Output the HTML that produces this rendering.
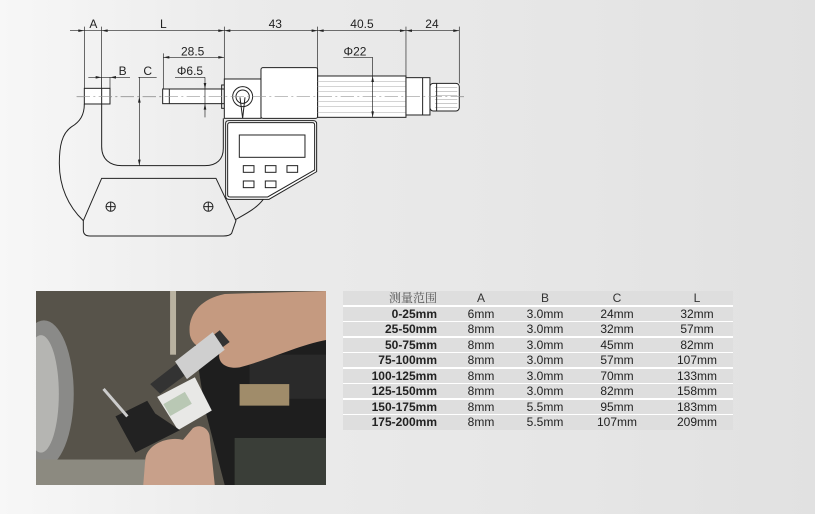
<!DOCTYPE html>
<html><head><meta charset="utf-8"><style>
html,body{margin:0;padding:0}
body{width:815px;height:514px;overflow:hidden;position:relative;background:linear-gradient(90deg,#f7f7f7 0%,#ebebeb 30%,#e6e6e6 70%,#e1e1e1 100%);font-family:"Liberation Sans",Arial,sans-serif}
.tbl{position:absolute;left:343px;top:291px;width:390px;height:139px;background:#fff}
.row{position:absolute;left:0;width:390px;height:14px;background:#dedede;font-size:12px;color:#222;line-height:15px}
.row span{position:absolute;top:0;white-space:nowrap}
.c0{right:296px;font-weight:bold}
.c1,.c2,.c3,.c4{transform:translateX(-50%)}
.c1{left:138px}.c2{left:202px}.c3{left:274px}.c4{left:354px}
.hd{color:#333}
.hd .c0{font-weight:normal;font-family:"Liberation Serif","Noto Serif CJK SC",serif;color:#555}
</style></head><body>
<svg width="815" height="514" style="position:absolute;left:0;top:0">
<g transform="translate(50,0) scale(0.3333)" fill="none" stroke="#222" stroke-width="3">
<line x1="80" y1="290" x2="1250" y2="290" stroke="#999" stroke-width="2.5" stroke-dasharray="40,10,6,10"/>
<path d="M103,312 C103,345 90,365 65,380 C35,400 28,440 28,490 C28,560 55,620 100,662"/>
<path d="M155,312 L155,440 C155,478 180,497 215,497 L465,497 C500,497 520,478 520,445 L520,355"/>
<path d="M100,662 L155,535 L498,535 L558,662 L545,700 C540,707 530,708 520,708 L120,708 C105,708 100,700 100,690 Z"/>
<path d="M555,660 C590,640 620,625 640,598"/>
<circle cx="182" cy="620" r="14"/><path d="M168,620 H196 M182,606 V634"/>
<circle cx="475" cy="620" r="14"/><path d="M461,620 H489 M475,606 V634"/>
<rect x="103" y="265" width="77" height="47" fill="#fff"/>
<line x1="155" y1="265" x2="155" y2="312"/>
<rect x="338" y="267" width="185" height="44" fill="#fff"/>
<line x1="358" y1="267" x2="358" y2="311"/>
<rect x="515" y="255" width="10" height="70"/>
<rect x="523" y="237" width="110" height="118" fill="#fff"/>
<rect x="633" y="203" width="170" height="152" rx="6" fill="#fff"/>
<circle cx="578" cy="290" r="30"/><circle cx="578" cy="290" r="20"/>
<path d="M570,292 L578,355 L585,292"/>
<path d="M527,370 Q527,362 537,362 L790,362 Q800,362 800,372 L800,515 L657,598 L537,598 Q527,598 527,588 Z" fill="#fff"/>
<path d="M533,375 Q533,368 540,368 L787,368 Q794,368 794,375 L794,510 L653,591 L540,591 Q533,591 533,584 Z"/>
<rect x="568" y="405" width="197" height="67"/>
<rect x="580" y="497" width="32" height="20"/><rect x="646" y="497" width="32" height="20"/><rect x="711" y="497" width="32" height="20"/>
<rect x="580" y="543" width="32" height="20"/><rect x="646" y="543" width="32" height="20"/>
<rect x="803" y="228" width="265" height="124" fill="#fff"/>
<g stroke="#bbb" stroke-width="2"><path d="M803,245H1068M803,260H1068M803,275H1068M803,305H1068M803,320H1068M803,337H1068"/></g>
<rect x="1068" y="233" width="72" height="112" fill="#fff"/>
<line x1="1118" y1="233" x2="1118" y2="345"/>
<rect x="1140" y="250" width="88" height="83" rx="10" fill="#fff"/>
<g stroke="#aaa" stroke-width="2"><path d="M1155,262H1222M1155,274H1222M1155,286H1222M1155,298H1222M1155,310H1222M1155,322H1222"/></g>
<line x1="1160" y1="250" x2="1160" y2="333"/>
<line x1="80" y1="290" x2="1250" y2="290" stroke="#999" stroke-width="2" stroke-dasharray="40,10,6,10"/>
<g stroke-width="2">
<path d="M60,92H1228 M103,80V265 M155,80V265 M523,80V237 M803,80V228 M1068,80V233 M1228,80V250"/>
<path d="M340,172H523 M340,160V267 M880,172H968 M968,172V352"/>
<path d="M115,232H240 M155,232V265 M180,232V265 M265,232H320 M268,232V497 M375,232H465 M465,232V352"/>
</g>
<g fill="#222" stroke="none">
<path d="M103,92l-18,-4v8z M155,92l18,-4v8z M523,92l-18,-4v8z M523,92l18,-4v8z M803,92l-18,-4v8z M803,92l18,-4v8z M1068,92l-18,-4v8z M1068,92l18,-4v8z M1228,92l-18,-4v8z"/>
<path d="M340,172l18,-4v8z M523,172l-18,-4v8z"/>
<path d="M155,232l-18,-4v8z M180,232l18,-4v8z"/>
<path d="M268,290l-4,18h8z M268,497l-4,-18h8z M465,267l-4,-18h8z M465,311l-4,18h8z M968,228l-4,18h8z M968,352l-4,-18h8z"/>
</g>
<g fill="#222" stroke="none" font-size="36" font-family="Liberation Sans,sans-serif" text-anchor="middle">
<text x="130" y="84">A</text><text x="340" y="84">L</text><text x="676" y="84">43</text><text x="936" y="84">40.5</text><text x="1146" y="84">24</text>
<text x="428" y="166">28.5</text><text x="915" y="166">Φ22</text>
<text x="218" y="225">B</text><text x="293" y="225">C</text><text x="420" y="225">Φ6.5</text>
</g>
</g>
<svg x="36" y="291" width="290" height="194" viewBox="0 0 292 198" preserveAspectRatio="none">
<rect width="292" height="198" fill="#57534a"/>
<ellipse cx="8" cy="105" rx="30" ry="75" fill="#8a8a88"/>
<ellipse cx="5" cy="105" rx="18" ry="60" fill="#b5b5b2"/>
<rect x="0" y="172" width="110" height="26" fill="#8c8a80"/>
<rect x="135" y="0" width="6" height="65" fill="#b9b2a0"/>
<path d="M160,55 L292,50 L292,198 L190,198 L170,120 Z" fill="#1e1e1e"/>
<rect x="215" y="65" width="77" height="45" fill="#2a2a2a"/>
<rect x="205" y="95" width="50" height="22" fill="#a08c6a"/>
<rect x="200" y="150" width="92" height="48" fill="#3a3e38"/>
<path d="M155,45 C152,25 165,8 190,3 L292,0 L292,50 C265,55 235,70 205,78 C190,80 182,72 185,62 C172,62 158,58 155,45Z" fill="#c59a80"/>
<path d="M115,95 L185,40 L195,52 L125,105 Z" fill="#333"/>
<path d="M140,72 L178,42 L190,60 L152,90 Z" fill="#cfcfcf"/>
<path d="M122,108 L160,88 L177,122 L143,142 Z" fill="#e8e8e6"/>
<rect x="130" y="108" width="25" height="14" fill="#b9c8b4" transform="rotate(-30 143 115)"/>
<path d="M80,128 L112,112 L120,125 L145,142 L100,165 Z" fill="#222"/>
<path d="M68,100 L92,128" stroke="#ccc" stroke-width="3"/>
<path d="M110,172 C112,155 135,148 148,152 L158,140 C165,135 175,140 175,150 L180,198 L108,198 Z" fill="#c8a08a"/>
</svg>
</svg>
<div class="tbl">
<div class="row hd" style="top:0"><span class="c0">测量范围</span><span class="c1">A</span><span class="c2">B</span><span class="c3">C</span><span class="c4">L</span></div>
<div class="row" style="top:16px"><span class="c0">0-25mm</span><span class="c1">6mm</span><span class="c2">3.0mm</span><span class="c3">24mm</span><span class="c4">32mm</span></div>
<div class="row" style="top:31px"><span class="c0">25-50mm</span><span class="c1">8mm</span><span class="c2">3.0mm</span><span class="c3">32mm</span><span class="c4">57mm</span></div>
<div class="row" style="top:47px"><span class="c0">50-75mm</span><span class="c1">8mm</span><span class="c2">3.0mm</span><span class="c3">45mm</span><span class="c4">82mm</span></div>
<div class="row" style="top:62px"><span class="c0">75-100mm</span><span class="c1">8mm</span><span class="c2">3.0mm</span><span class="c3">57mm</span><span class="c4">107mm</span></div>
<div class="row" style="top:78px"><span class="c0">100-125mm</span><span class="c1">8mm</span><span class="c2">3.0mm</span><span class="c3">70mm</span><span class="c4">133mm</span></div>
<div class="row" style="top:93px"><span class="c0">125-150mm</span><span class="c1">8mm</span><span class="c2">3.0mm</span><span class="c3">82mm</span><span class="c4">158mm</span></div>
<div class="row" style="top:109px"><span class="c0">150-175mm</span><span class="c1">8mm</span><span class="c2">5.5mm</span><span class="c3">95mm</span><span class="c4">183mm</span></div>
<div class="row" style="top:124px;height:15px"><span class="c0">175-200mm</span><span class="c1">8mm</span><span class="c2">5.5mm</span><span class="c3">107mm</span><span class="c4">209mm</span></div>
</div>
</body></html>
